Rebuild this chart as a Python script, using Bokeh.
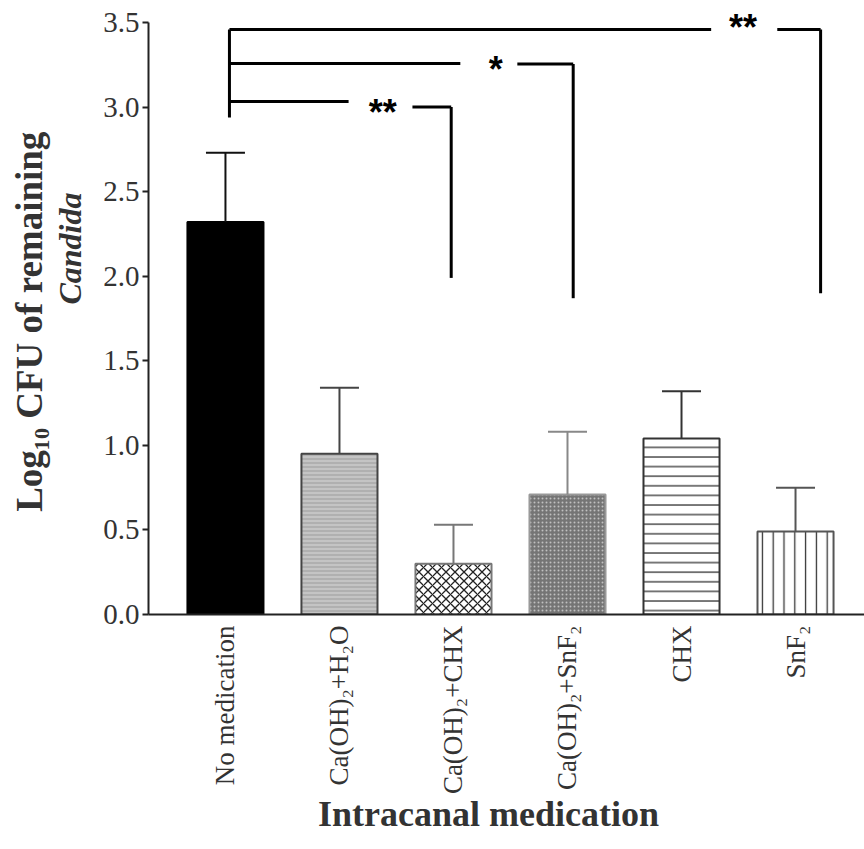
import math
from bokeh.plotting import figure
from bokeh.models import Range1d, FixedTicker, NumeralTickFormatter, LinearAxis
from bokeh.embed import file_html
from bokeh.resources import INLINE
from bokeh.core.properties import value

# ---------------- data ----------------
categories = ["No medication", "Ca(OH)\u2082+H\u2082O", "Ca(OH)\u2082+CHX",
              "Ca(OH)\u2082+SnF\u2082", "CHX", "SnF\u2082"]
means = [2.32, 0.95, 0.30, 0.71, 1.04, 0.49]
errors = [0.41, 0.39, 0.23, 0.37, 0.28, 0.26]
y_ticks = [0.0, 0.5, 1.0, 1.5, 2.0, 2.5, 3.0, 3.5]

# significance brackets (compared against "No medication")
sig_labels = ["**", "*", "**"]
sig_target = [2, 3, 5]          # index of compared group
sig_y_left = [3.033, 3.258, 3.459]
sig_y_right = [3.000, 3.254, 3.459]
sig_y_bottom = [1.99, 1.87, 1.90]

# ---------------- styles ----------------
FONT = "Liberation Serif"
NB = "\u00a0"
bar_styles = [
    dict(fill_color="#000000", line_color="#000000", line_width=2),
    dict(fill_color="#c4c4c4", line_color="#444444", line_width=2,
         hatch_pattern="horizontal_line", hatch_scale=4, hatch_color="#a9a9a9", hatch_weight=1.5),
    dict(fill_color="#ffffff", line_color="#777777", line_width=2,
         hatch_pattern="diagonal_cross", hatch_scale=9, hatch_color="#222222", hatch_weight=1.3),
    dict(fill_color="#757575", line_color="#999999", line_width=2,
         hatch_pattern="dot", hatch_scale=4, hatch_color="#c0c0c0", hatch_weight=1.2),
    dict(fill_color="#ffffff", line_color="#333333", line_width=2,
         hatch_pattern="horizontal_line", hatch_scale=9.6, hatch_color="#333333", hatch_weight=1.3),
    dict(fill_color="#ffffff", line_color="#555555", line_width=2,
         hatch_pattern="vertical_line", hatch_scale=10.8, hatch_color="#333333", hatch_weight=1.3),
]
err_colors = ["#111111", "#444444", "#777777", "#888888", "#333333", "#555555"]
BAR_W = 0.667
CAP_HALF = 0.171

p = figure(width=864, height=849,
           x_range=Range1d(-0.675, 5.605), y_range=Range1d(0, 3.571),
           output_backend="svg", toolbar_location=None,
           min_border_left=148, min_border_right=0,
           min_border_top=10, min_border_bottom=235)
p.outline_line_color = None
p.xgrid.grid_line_color = None
p.ygrid.grid_line_color = None
p.background_fill_color = "white"
p.border_fill_color = "white"

xs = list(range(len(categories)))

for i, (m, e) in enumerate(zip(means, errors)):
    p.vbar(x=[xs[i]], top=[m], bottom=[0], width=BAR_W, **bar_styles[i])
    p.segment(x0=[xs[i]], y0=[m], x1=[xs[i]], y1=[m + e],
              line_color=err_colors[i], line_width=2)
    p.segment(x0=[xs[i] - CAP_HALF], y0=[m + e], x1=[xs[i] + CAP_HALF], y1=[m + e],
              line_color=err_colors[i], line_width=2)

# significance brackets
base_x = xs[0] + 0.035
p.segment(x0=[base_x], y0=[min(sig_y_left) - 0.095], x1=[base_x], y1=[max(sig_y_left)],
          line_color="black", line_width=3)
for k, lab in enumerate(sig_labels):
    t = xs[sig_target[k]] + [-0.02, 0.05, 0.22][k]
    star_x = [1.38, 2.37, 4.54][k]
    gap_l = [0.30, 0.31, 0.28][k]
    gap_r = [0.26, 0.19, 0.30][k]
    star_dy = [-0.03, -0.03, 0.01][k]
    p.segment(x0=[base_x], y0=[sig_y_left[k]], x1=[star_x - gap_l], y1=[sig_y_left[k]],
              line_color="black", line_width=3)
    p.segment(x0=[star_x + gap_r], y0=[sig_y_right[k]], x1=[t], y1=[sig_y_right[k]],
              line_color="black", line_width=3)
    p.segment(x0=[t], y0=[sig_y_right[k]], x1=[t], y1=[sig_y_bottom[k]],
              line_color="black", line_width=3)
    p.text(x=[star_x], y=[sig_y_right[k] + star_dy], text=[lab],
           text_font=value("Liberation Sans"), text_font_style="bold",
           text_font_size="36px", text_align="center", text_baseline="middle",
           text_color="black")

# axes
yax = p.yaxis[0]
yax.ticker = FixedTicker(ticks=y_ticks)
yax.formatter = NumeralTickFormatter(format="0.0")
yax.bounds = (0, 3.5)
yax.axis_line_width = 2
yax.axis_line_color = "#222222"
yax.major_tick_line_width = 2
yax.major_tick_line_color = "#222222"
yax.major_tick_out = 6
yax.major_tick_in = 0
yax.minor_tick_line_color = None
yax.minor_tick_out = 0
yax.major_label_text_font = FONT
yax.major_label_text_font_size = "29px"
yax.major_label_text_color = "#333333"
yax.major_label_standoff = 3
yax.axis_label = NB * 16 + "Candida"
yax.axis_label_text_font = FONT
yax.axis_label_text_font_style = "bold italic"
yax.axis_label_text_font_size = "32px"
yax.axis_label_text_color = "#333333"
yax.axis_label_standoff = 12

ax2 = LinearAxis(ticker=FixedTicker(ticks=[]), axis_line_color=None,
                 major_tick_line_color=None, minor_tick_line_color=None,
                 major_tick_out=0, major_tick_in=0, minor_tick_out=0, minor_tick_in=0,
                 major_label_standoff=0, major_label_text_font_size="0px",
                 axis_label="Log\u2081\u2080 CFU of remaining" + NB * 2,
                 axis_label_text_font=FONT, axis_label_text_font_style="bold",
                 axis_label_text_font_size="37px", axis_label_text_color="#333333",
                 axis_label_standoff=0)
p.add_layout(ax2, "left")

xax = p.xaxis[0]
xax.ticker = FixedTicker(ticks=xs)
xax.major_label_overrides = {i: c for i, c in enumerate(categories)}
xax.major_label_orientation = math.pi / 2
xax.major_tick_line_color = None
xax.major_tick_out = 0
xax.major_tick_in = 0
xax.minor_tick_line_color = None
xax.minor_tick_out = 0
xax.axis_line_width = 2
xax.axis_line_color = "#222222"
xax.major_label_text_font = FONT
xax.major_label_text_font_size = "27px"
xax.major_label_text_color = "#333333"
xax.major_label_standoff = 11
xax.axis_label = "Intracanal medication" + NB * 4
xax.axis_label_text_font = FONT
xax.axis_label_text_font_style = "bold"
xax.axis_label_text_font_size = "36px"
xax.axis_label_text_color = "#333333"
xax.axis_label_standoff = -3

open("out.html", "w").write(file_html(p, INLINE))
